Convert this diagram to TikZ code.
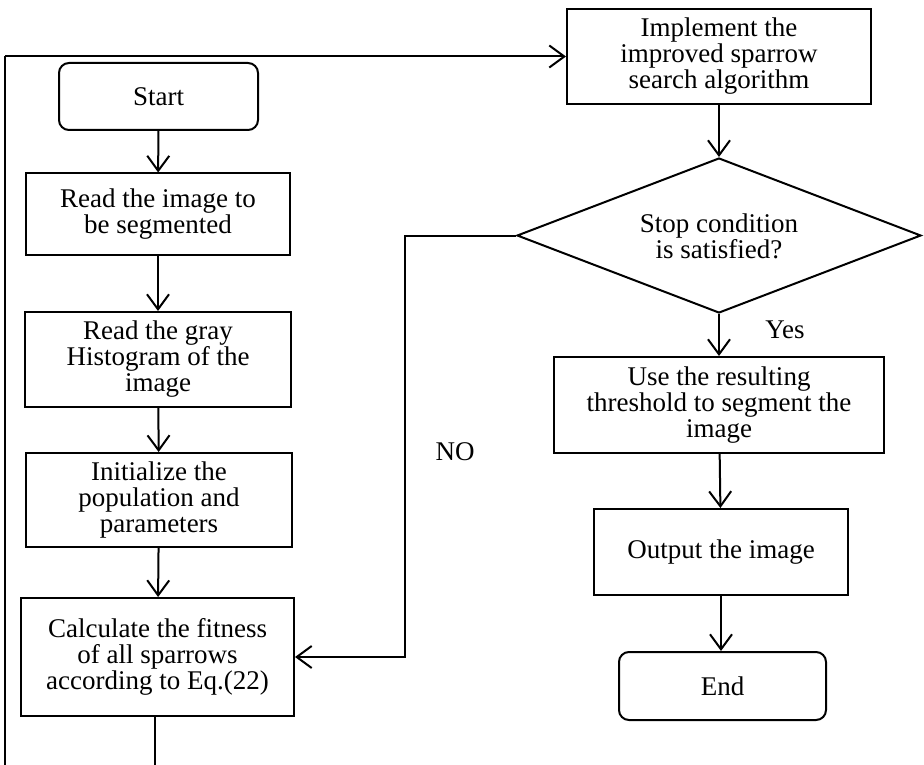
\documentclass[tikz,border=0pt]{standalone}
\usepackage{fontspec}
\setmainfont{Liberation Serif}
\usetikzlibrary{shapes.geometric,arrows.meta}
\begin{document}
\begin{tikzpicture}[x=1pt,y=-1pt,
  every node/.style={font=\fontsize{27}{26}\selectfont, inner sep=0pt, align=center},
  box/.style={draw, line width=2pt, rectangle},
  term/.style={draw, line width=2pt, rectangle, rounded corners=10pt},
  dec/.style={draw, line width=2pt, diamond},
  flow/.style={line width=2pt, -{Straight Barb[length=15pt,width=22pt]}},
  thin/.style={line width=1.3pt}]
\useasboundingbox (0,0) rectangle (924,765);
\node[term, minimum width=199pt, minimum height=67pt] (start) at (158.5,96.5) {Start};
\node[box, minimum width=264pt, minimum height=81pt] (read) at (158,214) {Read the image to\\be segmented};
\node[box, minimum width=266pt, minimum height=95pt] (gray) at (158,359.5) {Read the gray\\Histogram of the\\image};
\node[box, minimum width=266pt, minimum height=94pt] (init) at (159,500) {Initialize the\\population and\\parameters};
\node[box, minimum width=273pt, minimum height=118pt] (calc) at (157.5,657) {Calculate the fitness\\of all sparrows\\according to Eq.(22)};
\node[box, minimum width=304pt, minimum height=95pt] (impl) at (719,56.5) {Implement the\\improved sparrow\\search algorithm};
\node[dec, minimum width=404pt, minimum height=155pt] (stop) at (719,235.5) {};
\node (stoptxt) at (719,236) {Stop condition\\is satisfied?};
\node[box, minimum width=330pt, minimum height=96pt] (use) at (719,405) {Use the resulting\\threshold to segment the\\image};
\node[box, minimum width=254pt, minimum height=86pt] (out) at (721,552) {Output the image};
\node[term, minimum width=207pt, minimum height=68pt] (end) at (722.5,686) {End};
\node (yes) at (785,330) {Yes};
\node (no) at (455,452) {NO};
\coordinate (lb) at (5,765);
\coordinate (cb) at (155,765);
\coordinate (nx) at (405,0);
\draw[flow] (start) -- (read);
\draw[flow] (read) -- (gray);
\draw[flow] (gray) -- (init);
\draw[flow] (init) -- (calc);
\draw[flow] (impl) -- (stop);
\draw[flow] (stop) -- (use);
\draw[flow] (use) -- (out);
\draw[flow] (out) -- (end.north -| out.south);
\draw[flow] (stop.west) -- (stop.west -| nx) -- (calc.east -| nx) -- (calc.east);
\draw[thin] (calc.south -| cb) -- (cb);
\draw[thin] (lb) -- (lb |- impl.west);
\draw[flow] (lb |- impl.west) -- (impl.west);
\end{tikzpicture}
\end{document}
